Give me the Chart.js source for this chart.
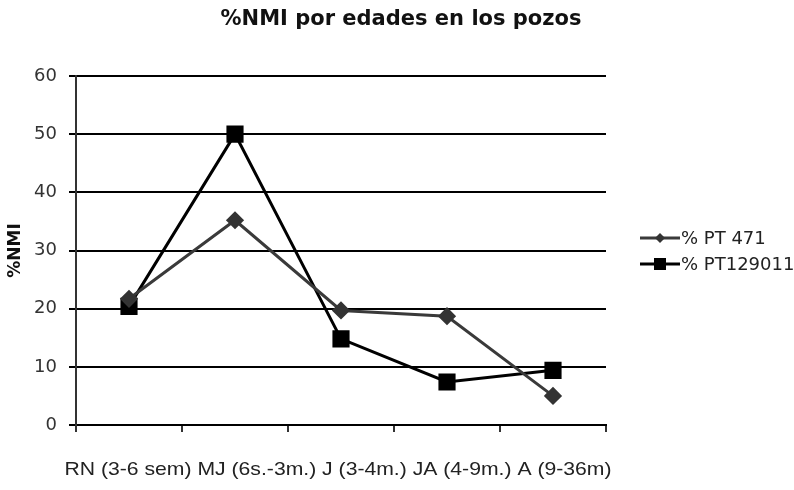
<!DOCTYPE html>
<html>
<head>
<meta charset="utf-8">
<script src="https://cdn.jsdelivr.net/npm/chart.js@4"></script>
<style>
html,body{margin:0;padding:0;background:#fff;}
#wrap{width:794px;height:490px;}
</style>
</head>
<body>
<div id="wrap"><canvas id="c" width="794" height="490"></canvas></div>
<script>
const categories = ["RN (3-6 sem)", "MJ (6s.-3m.)", "J (3-4m.)", "JA (4-9m.)", "A (9-36m)"];
const seriesPT471 = [21.7, 35.2, 19.7, 18.7, 5.0];
const seriesPT129011 = [20.4, 50, 14.8, 7.4, 9.4];
const seriesNames = ["% PT 471", "% PT129011"];
const yTicks = [0, 10, 20, 30, 40, 50, 60];
const chartTitle = "%NMI por edades en los pozos";
const yTitle = "%NMI";

const extrasPlugin = {
  id: 'extras',
  afterDraw(chart) {
    const ctx = chart.ctx;
    const area = chart.chartArea;
    ctx.save();
    // title
    ctx.fillStyle = '#111';
    ctx.font = 'bold 21px "DejaVu Sans"';
    ctx.textAlign = 'center';
    ctx.textBaseline = 'middle';
    ctx.fillText(chartTitle, 401, 20);

    // category labels laid out as one continuous line under the axis
    const labels = chart.data.labels;
    ctx.font = '19px "Liberation Sans"';
    ctx.fillStyle = '#222';
    ctx.textAlign = 'left';
    const text = labels.join(' ');
    const natural = ctx.measureText(text).width;
    const target = 547;
    const sx = target / natural;
    const cx = (area.left + area.right) / 2 - 3;
    ctx.save();
    ctx.translate(cx - target / 2, 470);
    ctx.scale(sx, 1);
    ctx.fillText(text, 0, 0);
    ctx.restore();

    // legend
    ctx.font = '18px "DejaVu Sans"';
    ctx.textAlign = 'left';
    const items = chart.data.datasets;
    const ys = [238, 264];
    items.forEach((ds, i) => {
      const y = ys[i];
      ctx.strokeStyle = ds.borderColor;
      ctx.lineWidth = ds.borderWidth;
      ctx.beginPath();
      ctx.moveTo(640, y);
      ctx.lineTo(680, y);
      ctx.stroke();
      ctx.fillStyle = ds.pointBackgroundColor;
      ctx.beginPath();
      if (ds.pointStyle === 'rectRot') {
        ctx.moveTo(660, y - 5); ctx.lineTo(665, y); ctx.lineTo(660, y + 5); ctx.lineTo(655, y);
      } else {
        ctx.rect(654, y - 6, 12, 12);
      }
      ctx.closePath();
      ctx.fill();
      ctx.fillStyle = '#222';
      ctx.fillText(ds.label, 681, y + 1);
    });
    ctx.restore();
  }
};

new Chart(document.getElementById('c'), {
  type: 'line',
  data: {
    labels: categories,
    datasets: [
      {
        label: seriesNames[0],
        data: seriesPT471,
        borderColor: '#3a3a3a',
        backgroundColor: '#3a3a3a',
        pointBackgroundColor: '#333',
        pointBorderColor: '#333',
        borderWidth: 3,
        pointStyle: 'rectRot',
        pointRadius: 7,
        tension: 0
      },
      {
        label: seriesNames[1],
        data: seriesPT129011,
        borderColor: '#000',
        backgroundColor: '#000',
        pointBackgroundColor: '#000',
        pointBorderColor: '#000',
        borderWidth: 3,
        pointStyle: 'rect',
        pointRadius: 10,
        tension: 0
      }
    ]
  },
  options: {
    responsive: false,
    animation: false,
    layout: { padding: { left: 0, right: 188, top: 76, bottom: 0 } },
    plugins: { legend: { display: false }, title: { display: false }, tooltip: { enabled: false } },
    scales: {
      x: {
        offset: true,
        grid: { offset: true, drawOnChartArea: false, drawTicks: true, tickLength: 7, color: '#333', lineWidth: 2 },
        border: { display: true, color: '#000', width: 2 },
        ticks: { display: false },
        afterFit(scale) { scale.height = 65; }
      },
      y: {
        min: 0, max: 60,
        afterBuildTicks(scale) { scale.ticks = yTicks.map(v => ({ value: v })); },
        grid: { color: '#000', lineWidth: 2, tickLength: 7, drawTicks: true },
        border: { display: true, color: '#333', width: 2 },
        ticks: { color: '#333', font: { family: '"DejaVu Sans"', size: 18 }, padding: 12 },
        title: { display: true, text: yTitle, color: '#111', font: { family: '"DejaVu Sans"', size: 17, weight: 'bold' }, padding: { top: 5, bottom: 0 } },
        afterFit(scale) { scale.width = 76; }
      }
    }
  },
  plugins: [extrasPlugin]
});
</script>
</body>
</html>
